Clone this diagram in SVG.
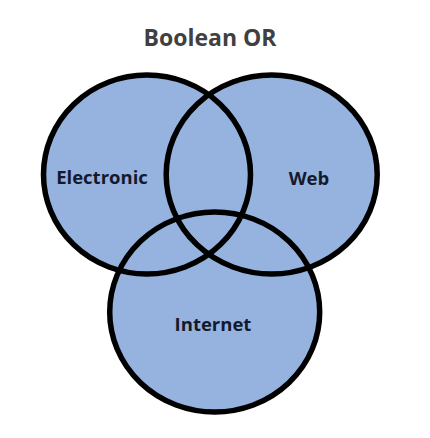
<svg xmlns="http://www.w3.org/2000/svg" width="430" height="438" viewBox="0 0 430 438">
<style>
.c{fill:#95B3DE;stroke:#000;stroke-width:5.5}
.l{font-family:"Open Sans","Liberation Sans",sans-serif;font-weight:bold;font-size:18.5px;fill:#141a2e;text-anchor:middle}
.t{font-family:"Open Sans","Liberation Sans",sans-serif;font-weight:bold;font-size:23px;fill:#404040;text-anchor:middle}
</style>
<rect width="430" height="438" fill="#fff"/>
<text class="t" x="210" y="46">Boolean OR</text>
<g id="fills">
<ellipse cx="147" cy="174.5" rx="103.5" ry="99.5" fill="#95B3DE"/>
<ellipse cx="271.7" cy="174.5" rx="105.5" ry="99.5" fill="#95B3DE"/>
<ellipse cx="214.7" cy="312" rx="105" ry="100" fill="#95B3DE"/>
</g>
<g id="electronic">
<ellipse cx="147" cy="174.5" rx="103.5" ry="99.5" fill="none" stroke="#000" stroke-width="5.5"/>
<text class="l" x="102" y="184">Electronic</text>
</g>
<g id="web">
<ellipse cx="271.7" cy="174.5" rx="105.5" ry="99.5" fill="none" stroke="#000" stroke-width="5.5"/>
<text class="l" x="309" y="185">Web</text>
</g>
<g id="internet">
<ellipse cx="214.7" cy="312" rx="105" ry="100" fill="none" stroke="#000" stroke-width="5.5"/>
<text class="l" x="213" y="331">Internet</text>
</g>
<g id="connectors"/>
</svg>
